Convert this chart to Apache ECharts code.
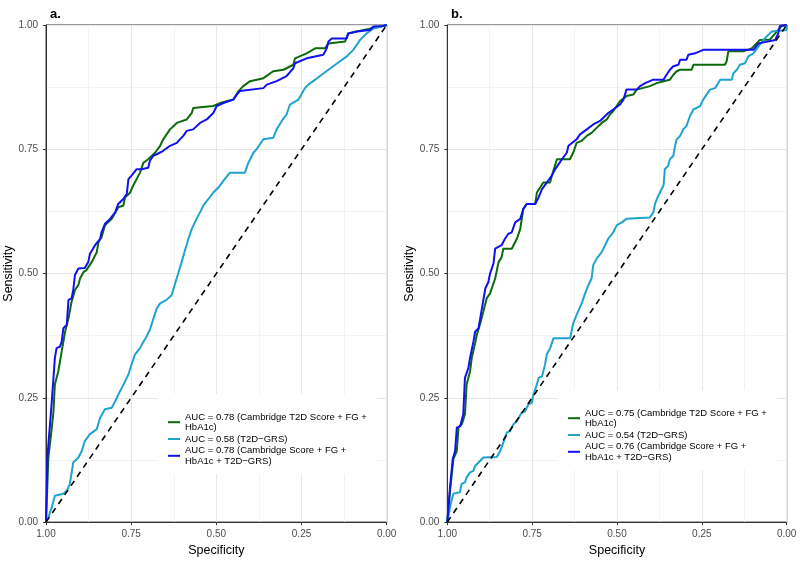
<!DOCTYPE html>
<html>
<head>
<meta charset="utf-8">
<script src="https://cdn.jsdelivr.net/npm/echarts@6/dist/echarts.min.js"></script>
<style>html,body{margin:0;padding:0;background:#fff;}#c{width:800px;height:562px;}</style>
</head>
<body>
<div id="c"></div>
<script>
// Data: [specificity, sensitivity]
const panelTitles = ['a.', 'b.'];
const namesA = [
  'AUC = 0.78 (Cambridge T2D Score + FG +\nHbA1c)',
  'AUC = 0.58 (T2D\u2212GRS)',
  'AUC = 0.78 (Cambridge Score + FG +\nHbA1c + T2D\u2212GRS)'
];
const namesB = [
  'AUC = 0.75 (Cambridge T2D Score + FG +\nHbA1c)',
  'AUC = 0.54 (T2D\u2212GRS)',
  'AUC = 0.76 (Cambridge Score + FG +\nHbA1c + T2D\u2212GRS)'
];
const diagonal = [[1, 0], [0, 1]];

const aGreen = [[1,0],[0.993,0.130],[0.983,0.190],[0.978,0.223],[0.974,0.277],[0.964,0.303],[0.954,0.343],[0.944,0.383],[0.934,0.410],[0.925,0.443],[0.915,0.467],[0.905,0.477],[0.900,0.490],[0.890,0.503],[0.881,0.507],[0.866,0.523],[0.851,0.543],[0.846,0.563],[0.837,0.573],[0.827,0.597],[0.807,0.610],[0.788,0.633],[0.773,0.637],[0.768,0.653],[0.753,0.663],[0.744,0.677],[0.734,0.690],[0.724,0.703],[0.714,0.723],[0.700,0.730],[0.680,0.743],[0.665,0.757],[0.656,0.770],[0.636,0.790],[0.616,0.803],[0.587,0.810],[0.572,0.823],[0.568,0.833],[0.509,0.837],[0.489,0.843],[0.450,0.850],[0.435,0.867],[0.421,0.877],[0.401,0.887],[0.362,0.893],[0.333,0.907],[0.303,0.910],[0.274,0.920],[0.269,0.933],[0.235,0.943],[0.210,0.953],[0.181,0.953],[0.171,0.963],[0.122,0.967],[0.113,0.983],[0.088,0.987],[0.010,0.998],[0,1]];

const aCyan = [[1,0],[0.993,0.010],[0.983,0.030],[0.974,0.053],[0.949,0.057],[0.939,0.063],[0.930,0.077],[0.920,0.120],[0.905,0.130],[0.895,0.143],[0.886,0.163],[0.871,0.177],[0.851,0.187],[0.841,0.210],[0.827,0.227],[0.807,0.230],[0.797,0.243],[0.783,0.263],[0.768,0.283],[0.758,0.297],[0.749,0.317],[0.739,0.337],[0.724,0.350],[0.714,0.363],[0.705,0.373],[0.695,0.387],[0.675,0.430],[0.665,0.440],[0.646,0.447],[0.631,0.457],[0.621,0.480],[0.612,0.500],[0.602,0.523],[0.592,0.547],[0.582,0.570],[0.572,0.590],[0.558,0.610],[0.548,0.623],[0.538,0.637],[0.523,0.650],[0.509,0.663],[0.494,0.673],[0.479,0.687],[0.460,0.703],[0.416,0.703],[0.406,0.723],[0.391,0.743],[0.382,0.750],[0.362,0.770],[0.333,0.773],[0.323,0.790],[0.308,0.807],[0.294,0.820],[0.284,0.840],[0.259,0.850],[0.240,0.873],[0.230,0.880],[0.210,0.890],[0.191,0.900],[0.171,0.910],[0.157,0.917],[0.137,0.927],[0.117,0.937],[0.098,0.950],[0.078,0.970],[0.059,0.983],[0.039,0.993],[0.010,0.998],[0,1]];

const aBlue = [[1,0],[0.996,0.130],[0.983,0.243],[0.974,0.330],[0.969,0.350],[0.959,0.353],[0.954,0.363],[0.949,0.390],[0.939,0.397],[0.934,0.447],[0.925,0.450],[0.920,0.467],[0.915,0.497],[0.905,0.510],[0.886,0.511],[0.876,0.523],[0.871,0.540],[0.856,0.557],[0.841,0.570],[0.837,0.583],[0.827,0.600],[0.812,0.610],[0.797,0.623],[0.788,0.640],[0.773,0.650],[0.763,0.660],[0.758,0.690],[0.749,0.697],[0.734,0.710],[0.719,0.710],[0.700,0.713],[0.695,0.727],[0.685,0.737],[0.675,0.740],[0.656,0.747],[0.636,0.757],[0.616,0.763],[0.607,0.770],[0.597,0.777],[0.587,0.787],[0.568,0.790],[0.548,0.803],[0.528,0.810],[0.509,0.823],[0.499,0.837],[0.479,0.843],[0.450,0.850],[0.440,0.860],[0.431,0.867],[0.362,0.873],[0.352,0.880],[0.323,0.887],[0.294,0.897],[0.274,0.913],[0.269,0.923],[0.235,0.933],[0.186,0.940],[0.176,0.953],[0.171,0.967],[0.161,0.973],[0.117,0.973],[0.113,0.983],[0.088,0.987],[0.049,0.990],[0.039,0.997],[0.010,0.998],[0,1]];

const bGreen = [[1,0],[0.992,0.063],[0.982,0.127],[0.972,0.143],[0.967,0.190],[0.957,0.197],[0.948,0.217],[0.943,0.277],[0.933,0.303],[0.928,0.330],[0.918,0.360],[0.913,0.377],[0.904,0.397],[0.894,0.423],[0.884,0.450],[0.874,0.460],[0.859,0.490],[0.849,0.523],[0.840,0.533],[0.835,0.550],[0.810,0.550],[0.795,0.570],[0.785,0.590],[0.776,0.630],[0.766,0.640],[0.741,0.640],[0.736,0.663],[0.717,0.683],[0.697,0.683],[0.692,0.697],[0.677,0.730],[0.639,0.730],[0.629,0.743],[0.619,0.763],[0.604,0.767],[0.589,0.777],[0.575,0.783],[0.560,0.793],[0.545,0.803],[0.530,0.810],[0.521,0.820],[0.511,0.827],[0.501,0.837],[0.491,0.847],[0.472,0.857],[0.452,0.860],[0.442,0.870],[0.403,0.877],[0.383,0.883],[0.363,0.887],[0.344,0.890],[0.334,0.900],[0.324,0.907],[0.314,0.910],[0.280,0.910],[0.275,0.920],[0.182,0.920],[0.177,0.927],[0.172,0.947],[0.128,0.947],[0.103,0.953],[0.079,0.970],[0.049,0.971],[0.025,0.990],[0.015,0.998],[0,1]];

const bCyan = [[1,0],[0.990,0.037],[0.982,0.057],[0.963,0.060],[0.958,0.077],[0.948,0.080],[0.943,0.090],[0.933,0.100],[0.923,0.103],[0.918,0.113],[0.908,0.120],[0.894,0.130],[0.854,0.131],[0.844,0.143],[0.835,0.160],[0.825,0.180],[0.815,0.183],[0.805,0.197],[0.795,0.203],[0.781,0.220],[0.771,0.223],[0.761,0.237],[0.751,0.240],[0.746,0.257],[0.736,0.277],[0.731,0.290],[0.721,0.293],[0.712,0.317],[0.707,0.337],[0.697,0.350],[0.687,0.370],[0.638,0.370],[0.629,0.400],[0.619,0.417],[0.604,0.440],[0.594,0.460],[0.584,0.477],[0.575,0.490],[0.570,0.517],[0.560,0.530],[0.545,0.543],[0.535,0.557],[0.526,0.570],[0.511,0.583],[0.501,0.597],[0.486,0.603],[0.472,0.610],[0.403,0.613],[0.393,0.623],[0.388,0.640],[0.378,0.657],[0.363,0.677],[0.359,0.710],[0.349,0.717],[0.344,0.730],[0.334,0.737],[0.329,0.757],[0.324,0.770],[0.314,0.777],[0.305,0.790],[0.295,0.797],[0.285,0.817],[0.275,0.830],[0.255,0.837],[0.246,0.850],[0.236,0.860],[0.226,0.870],[0.211,0.873],[0.196,0.890],[0.162,0.890],[0.157,0.903],[0.147,0.910],[0.138,0.920],[0.123,0.923],[0.113,0.937],[0.098,0.943],[0.069,0.970],[0.044,0.987],[0,0.990],[0,1]];

const bBlue = [[1,0],[0.992,0.070],[0.984,0.127],[0.977,0.143],[0.972,0.190],[0.962,0.193],[0.953,0.217],[0.948,0.290],[0.938,0.310],[0.933,0.330],[0.923,0.363],[0.918,0.383],[0.908,0.390],[0.898,0.430],[0.888,0.470],[0.879,0.483],[0.874,0.500],[0.864,0.520],[0.859,0.550],[0.840,0.557],[0.830,0.570],[0.820,0.580],[0.810,0.583],[0.800,0.603],[0.785,0.610],[0.776,0.630],[0.766,0.640],[0.741,0.640],[0.731,0.653],[0.721,0.670],[0.707,0.683],[0.692,0.697],[0.682,0.710],[0.672,0.720],[0.662,0.730],[0.648,0.743],[0.643,0.757],[0.639,0.760],[0.619,0.770],[0.609,0.780],[0.589,0.790],[0.570,0.800],[0.550,0.807],[0.535,0.817],[0.526,0.823],[0.511,0.830],[0.491,0.840],[0.481,0.850],[0.472,0.870],[0.442,0.870],[0.432,0.877],[0.417,0.883],[0.393,0.890],[0.363,0.890],[0.354,0.900],[0.344,0.910],[0.334,0.917],[0.319,0.920],[0.314,0.930],[0.295,0.930],[0.290,0.940],[0.270,0.943],[0.246,0.950],[0.098,0.950],[0.083,0.963],[0.034,0.970],[0.025,0.983],[0.020,0.998],[0,1]];

const colors = ['#0B6B0B', '#1FA3CF', '#1010F0'];
const FONT = 'Liberation Sans, Arial, Helvetica, sans-serif';

const chart = echarts.init(document.getElementById('c'), null, {renderer: 'canvas'});

function xAx(gi) {
  return {
    gridIndex: gi, type: 'value', min: 0, max: 1, interval: 0.25, inverse: true,
    name: 'Specificity', nameLocation: 'middle', nameGap: 21,
    nameTextStyle: {fontFamily: FONT, fontSize: 12.5, color: '#000'},
    axisLine: {show: true, onZero: false, lineStyle: {color: '#333', width: 1}},
    axisTick: {show: true, length: 3, lineStyle: {color: '#333'}},
    axisLabel: {fontFamily: FONT, fontSize: 10, color: '#4D4D4D', margin: 7,
      formatter: v => v.toFixed(2)},
    splitLine: {show: true, lineStyle: {color: '#E6E6E6', width: 1}},
    minorTick: {show: false, splitNumber: 2},
    minorSplitLine: {show: true, lineStyle: {color: '#F0F0F0', width: 0.8}}
  };
}
function yAx(gi) {
  return {
    gridIndex: gi, type: 'value', min: 0, max: 1, interval: 0.25,
    name: 'Sensitivity', nameLocation: 'middle', nameGap: 29,
    nameTextStyle: {fontFamily: FONT, fontSize: 12.5, color: '#000'},
    axisLine: {show: true, onZero: false, lineStyle: {color: '#333', width: 1}},
    axisTick: {show: true, length: 3, lineStyle: {color: '#333'}},
    axisLabel: {fontFamily: FONT, fontSize: 10, color: '#4D4D4D', margin: 8,
      formatter: v => v.toFixed(2)},
    splitLine: {show: true, lineStyle: {color: '#E6E6E6', width: 1}},
    minorTick: {show: false, splitNumber: 2},
    minorSplitLine: {show: true, lineStyle: {color: '#F0F0F0', width: 0.8}}
  };
}
function rocSeries(name, data, color, gi) {
  return {
    type: 'line', name: name, data: data, xAxisIndex: gi, yAxisIndex: gi,
    showSymbol: false, symbol: 'none', silent: true, z: 3,
    lineStyle: {color: color, width: 2}, itemStyle: {color: color}
  };
}
function diagSeries(gi) {
  return {
    type: 'line', data: diagonal, xAxisIndex: gi, yAxisIndex: gi,
    showSymbol: false, symbol: 'none', silent: true, z: 4,
    lineStyle: {color: '#000', width: 1.6, type: [6, 5]}
  };
}
function legendFor(names, left, top) {
  return {
    data: names, left: left, top: top, orient: 'vertical',
    backgroundColor: '#fff', padding: [18, 10, 8, 10],
    icon: 'rect', itemWidth: 12, itemHeight: 2, itemGap: 1.5,
    selectedMode: false, z: 5,
    textStyle: {fontFamily: FONT, fontSize: 9.5, lineHeight: 10.2, color: '#000'}
  };
}

chart.setOption({
  animation: false,
  backgroundColor: '#fff',
  title: [
    {text: panelTitles[0], left: 45, top: 3, textStyle: {fontFamily: FONT, fontSize: 13, fontWeight: 'bold', color: '#000'}},
    {text: panelTitles[1], left: 446, top: 3, textStyle: {fontFamily: FONT, fontSize: 13, fontWeight: 'bold', color: '#000'}}
  ],
  grid: [
    {left: 46, top: 25, width: 340.7, height: 500, show: true, borderColor: '#333', borderWidth: 1, backgroundColor: 'transparent'},
    {left: 447.3, top: 25, width: 339.4, height: 500, show: true, borderColor: '#333', borderWidth: 1, backgroundColor: 'transparent'}
  ],
  xAxis: [xAx(0), xAx(1)],
  yAxis: [yAx(0), yAx(1)],
  legend: [legendFor(namesA, 158, 394), legendFor(namesB, 558, 390)],
  series: [
    rocSeries(namesA[0], aGreen, colors[0], 0),
    rocSeries(namesA[1], aCyan, colors[1], 0),
    rocSeries(namesA[2], aBlue, colors[2], 0),
    diagSeries(0),
    rocSeries(namesB[0], bGreen, colors[0], 1),
    rocSeries(namesB[1], bCyan, colors[1], 1),
    rocSeries(namesB[2], bBlue, colors[2], 1),
    diagSeries(1)
  ]
});
</script>
</body>
</html>
